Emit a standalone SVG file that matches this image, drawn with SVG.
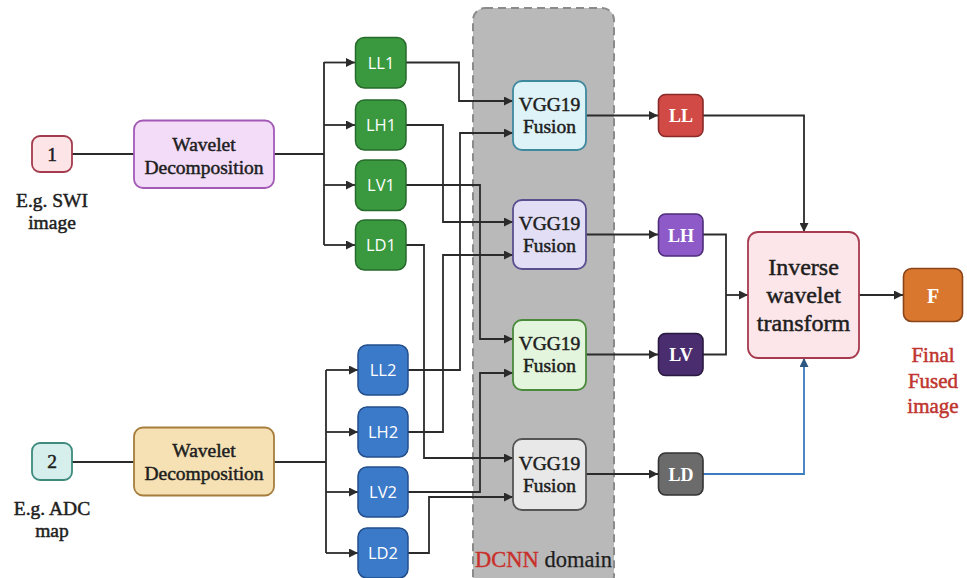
<svg xmlns="http://www.w3.org/2000/svg" width="967" height="578" viewBox="0 0 967 578">
  <defs>
    <marker id="arrow" viewBox="0 0 10 10" refX="10" refY="5" markerWidth="10" markerHeight="9" markerUnits="userSpaceOnUse" orient="auto">
      <path d="M0,0 L10,5 L0,10 z" fill="#2b2b2b"/>
    </marker>
    <marker id="arrow-blue" viewBox="0 0 10 10" refX="10" refY="5" markerWidth="10" markerHeight="9" markerUnits="userSpaceOnUse" orient="auto">
      <path d="M0,0 L10,5 L0,10 z" fill="#2d5680"/>
    </marker>
    <style>
      .serif { font-family: "Liberation Serif", "Times New Roman", serif; }
      .medium { stroke-width: 0.5px; stroke-linejoin: round; }
      .sans { font-family: "Open Sans", "Liberation Sans", Arial, sans-serif; }
      .lbl { font-size: 19.5px; fill: #1e1e1e; stroke: #1e1e1e; text-anchor: middle; }
      .big { font-size: 24px; }
      .red { fill: #c0352f; stroke: #c0352f; font-size: 21px; }
      .band { font-size: 16.5px; fill: #ffffff; text-anchor: middle; }
      .out { font-size: 18px; font-weight: bold; fill: #ffffff; text-anchor: middle; }
      .wire { fill: none; stroke: #2b2b2b; stroke-width: 1.8; }
      .wire-blue { fill: none; stroke: #3b7bbf; stroke-width: 1.8; }
      .green { fill: #3a993f; stroke: #276b2b; stroke-width: 1.5; }
      .blue { fill: #3b79c9; stroke: #234f8c; stroke-width: 1.5; }
      .vgg { stroke-width: 1.8; }
    </style>
  </defs>

  <rect width="967" height="578" fill="#ffffff"/>

  <!-- DCNN domain band -->
  <g id="dcnn-domain">
    <rect x="473" y="8" width="141" height="580" rx="12" fill="#b9b9b9" stroke="#8a8a8a" stroke-width="2" stroke-dasharray="8 5"/>
    <text class="serif" x="475" y="567" font-size="22.5"><tspan fill="#c9302c" stroke="#c9302c" stroke-width="0.4">DCNN</tspan><tspan fill="#1e1e1e" stroke="#1e1e1e" stroke-width="0.25"> domain</tspan></text>
  </g>

  <!-- connectors -->
  <g id="connectors">
    <!-- input 1 -->
    <path class="wire" d="M72 154 H134"/>
    <path class="wire" d="M274 154 H324 M324 62 V245"/>
    <path class="wire" marker-end="url(#arrow)" d="M324 62.5 H355"/>
    <path class="wire" marker-end="url(#arrow)" d="M324 125 H355"/>
    <path class="wire" marker-end="url(#arrow)" d="M324 185 H355"/>
    <path class="wire" marker-end="url(#arrow)" d="M324 245 H355"/>
    <!-- input 2 -->
    <path class="wire" d="M72 462 H134"/>
    <path class="wire" d="M274 462 H326 M326 370 V553"/>
    <path class="wire" marker-end="url(#arrow)" d="M326 370 H358"/>
    <path class="wire" marker-end="url(#arrow)" d="M326 432 H358"/>
    <path class="wire" marker-end="url(#arrow)" d="M326 492 H358"/>
    <path class="wire" marker-end="url(#arrow)" d="M326 553 H358"/>
    <!-- sub-bands to fusion -->
    <path class="wire" marker-end="url(#arrow)" d="M406 62.5 H459 V101 H513"/>
    <path class="wire" marker-end="url(#arrow)" d="M408 370 H460 V133 H513"/>
    <path class="wire" marker-end="url(#arrow)" d="M406 125 H443 V222 H513"/>
    <path class="wire" marker-end="url(#arrow)" d="M408 432 H443 V255 H513"/>
    <path class="wire" marker-end="url(#arrow)" d="M406 185 H480 V339 H513"/>
    <path class="wire" marker-end="url(#arrow)" d="M408 492 H480 V373 H513"/>
    <path class="wire" marker-end="url(#arrow)" d="M406 245 H424 V458 H513"/>
    <path class="wire" marker-end="url(#arrow)" d="M408 553 H429 V497 H513"/>
    <!-- fusion outputs -->
    <path class="wire" marker-end="url(#arrow)" d="M586 115.5 H658"/>
    <path class="wire" marker-end="url(#arrow)" d="M586 234.5 H658"/>
    <path class="wire" marker-end="url(#arrow)" d="M586 354.5 H658"/>
    <path class="wire" marker-end="url(#arrow)" d="M586 474 H658"/>
    <!-- to inverse transform -->
    <path class="wire" marker-end="url(#arrow)" d="M703 115.5 H804 V232"/>
    <path class="wire" d="M703 234.5 H726 V354.5 H703"/>
    <path class="wire" marker-end="url(#arrow)" d="M726 295 H748"/>
    <path class="wire-blue" marker-end="url(#arrow-blue)" d="M703 474 H804 V358"/>
    <path class="wire" marker-end="url(#arrow)" d="M859 295 H903"/>
  </g>

  <!-- inputs -->
  <g id="input-1">
    <rect x="32" y="136" width="40" height="36" rx="8" fill="#fde4e7" stroke="#a33b4c" stroke-width="1.8"/>
    <text class="serif lbl medium" x="52" y="161">1</text>
    <text class="serif lbl medium" x="52" y="207">E.g. SWI</text>
    <text class="serif lbl medium" x="52" y="229">image</text>
  </g>
  <g id="input-2">
    <rect x="32" y="443" width="40" height="37" rx="8" fill="#d6efec" stroke="#3e8a7d" stroke-width="1.8"/>
    <text class="serif lbl medium" x="52" y="468">2</text>
    <text class="serif lbl medium" x="52" y="515">E.g. ADC</text>
    <text class="serif lbl medium" x="52" y="537">map</text>
  </g>

  <!-- wavelet decompositions -->
  <g id="wavelet-1">
    <rect x="134" y="120.5" width="140" height="67.5" rx="9" fill="#f3dcf7" stroke="#a359b6" stroke-width="1.8"/>
    <text class="serif lbl medium" x="204" y="151">Wavelet</text>
    <text class="serif lbl medium" x="204" y="174">Decomposition</text>
  </g>
  <g id="wavelet-2">
    <rect x="134" y="427.5" width="140" height="68" rx="9" fill="#f5e1b4" stroke="#a67d3d" stroke-width="1.8"/>
    <text class="serif lbl medium" x="204" y="457">Wavelet</text>
    <text class="serif lbl medium" x="204" y="480">Decomposition</text>
  </g>

  <!-- sub-bands of input 1 -->
  <g id="ll1"><rect class="green" x="355.5" y="37.5" width="50.5" height="50.5" rx="9"/><text class="sans band" x="381" y="68.5">LL1</text></g>
  <g id="lh1"><rect class="green" x="355.5" y="100" width="50.5" height="50" rx="9"/><text class="sans band" x="381" y="131">LH1</text></g>
  <g id="lv1"><rect class="green" x="355.5" y="160" width="50.5" height="50.5" rx="9"/><text class="sans band" x="381" y="191">LV1</text></g>
  <g id="ld1"><rect class="green" x="355.5" y="220" width="50.5" height="50" rx="9"/><text class="sans band" x="381" y="251">LD1</text></g>

  <!-- sub-bands of input 2 -->
  <g id="ll2"><rect class="blue" x="358" y="345" width="50" height="50" rx="9"/><text class="sans band" x="383" y="376">LL2</text></g>
  <g id="lh2"><rect class="blue" x="358" y="407" width="50" height="50" rx="9"/><text class="sans band" x="383" y="438">LH2</text></g>
  <g id="lv2"><rect class="blue" x="358" y="467" width="50" height="50" rx="9"/><text class="sans band" x="383" y="498">LV2</text></g>
  <g id="ld2"><rect class="blue" x="358" y="528" width="50" height="50" rx="9"/><text class="sans band" x="383" y="559">LD2</text></g>

  <!-- VGG19 fusion blocks -->
  <g id="vgg-ll"><rect class="vgg" x="513" y="81" width="73" height="69" rx="9" fill="#def3f8" stroke="#3f899f"/><text class="serif lbl medium" x="549.5" y="111">VGG19</text><text class="serif lbl medium" x="549.5" y="133">Fusion</text></g>
  <g id="vgg-lh"><rect class="vgg" x="513" y="200" width="73" height="69" rx="9" fill="#e2def5" stroke="#5a4f8f"/><text class="serif lbl medium" x="549.5" y="230">VGG19</text><text class="serif lbl medium" x="549.5" y="252">Fusion</text></g>
  <g id="vgg-lv"><rect class="vgg" x="513" y="320" width="73" height="70" rx="9" fill="#e3f5dc" stroke="#4a8a3b"/><text class="serif lbl medium" x="549.5" y="350">VGG19</text><text class="serif lbl medium" x="549.5" y="372">Fusion</text></g>
  <g id="vgg-ld"><rect class="vgg" x="513" y="439" width="73" height="71" rx="9" fill="#e8e8e8" stroke="#555555"/><text class="serif lbl medium" x="549.5" y="470">VGG19</text><text class="serif lbl medium" x="549.5" y="492">Fusion</text></g>

  <!-- fused sub-bands -->
  <g id="ll"><rect x="658.5" y="94.5" width="44.5" height="42" rx="7" fill="#d24a46" stroke="#8a2a28" stroke-width="1.6"/><text class="serif out" x="681" y="122">LL</text></g>
  <g id="lh"><rect x="658.5" y="214" width="44.5" height="42" rx="7" fill="#8e5ac7" stroke="#4e2d7a" stroke-width="1.6"/><text class="serif out" x="681" y="241.5">LH</text></g>
  <g id="lv"><rect x="658.5" y="333.5" width="44.5" height="42" rx="7" fill="#4a2d6e" stroke="#2a1a40" stroke-width="1.6"/><text class="serif out" x="681" y="361">LV</text></g>
  <g id="ld"><rect x="658.5" y="453" width="44.5" height="42" rx="7" fill="#6b6b6b" stroke="#333333" stroke-width="1.6"/><text class="serif out" x="681" y="480.5">LD</text></g>

  <!-- inverse transform -->
  <g id="inverse-wavelet">
    <rect x="748" y="232" width="111" height="126" rx="10" fill="#fce6ea" stroke="#a83a4f" stroke-width="1.8"/>
    <text class="serif lbl medium big" x="803.5" y="275">Inverse</text>
    <text class="serif lbl medium big" x="803.5" y="303">wavelet</text>
    <text class="serif lbl medium big" x="803.5" y="331">transform</text>
  </g>

  <!-- fused output -->
  <g id="fused-output">
    <rect x="903.5" y="268.5" width="59" height="53" rx="8" fill="#d9772f" stroke="#8a4418" stroke-width="1.6"/>
    <text class="serif out" x="933" y="303" style="font-size:20px">F</text>
    <text class="serif lbl medium red" x="933" y="362">Final</text>
    <text class="serif lbl medium red" x="933" y="388">Fused</text>
    <text class="serif lbl medium red" x="933" y="413">image</text>
  </g>
</svg>
